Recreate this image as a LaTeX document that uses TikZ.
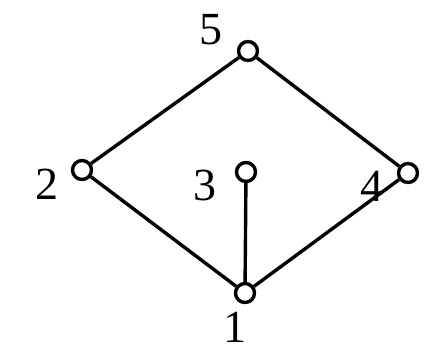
\documentclass[tikz,border=0pt]{standalone}
\usepackage{fontspec}
\setmainfont{Liberation Serif}
\begin{document}
\begin{tikzpicture}[x=1pt,y=-1pt,
  vert/.style={circle,draw,line width=3.4pt,fill=white,inner sep=0pt,minimum size=19pt},
  lab/.style={font=\fontsize{46}{46}\selectfont,inner sep=0pt,text=black},
  edge/.style={line width=3.4pt}]
\useasboundingbox (0,0) rectangle (443,357);
\node[vert] (v5) at (248,51) {};
\node[vert] (v2) at (82,170) {};
\node[vert] (v3) at (246,172) {};
\node[vert] (v4) at (408,173) {};
\node[vert] (v1) at (245,293) {};
\node[lab] (l5) at (211,30) {5};
\node[lab] (l2) at (47,184) {2};
\node[lab] (l3) at (205,185) {3};
\node[lab] (l4) at (372,186) {4};
\node[lab] (l1) at (235,327) {1};
\draw[edge] (v5) -- (v2);
\draw[edge] (v5) -- (v4);
\draw[edge] (v2) -- (v1);
\draw[edge] (v3) -- (v1);
\draw[edge] (v4) -- (v1);
\end{tikzpicture}
\end{document}
